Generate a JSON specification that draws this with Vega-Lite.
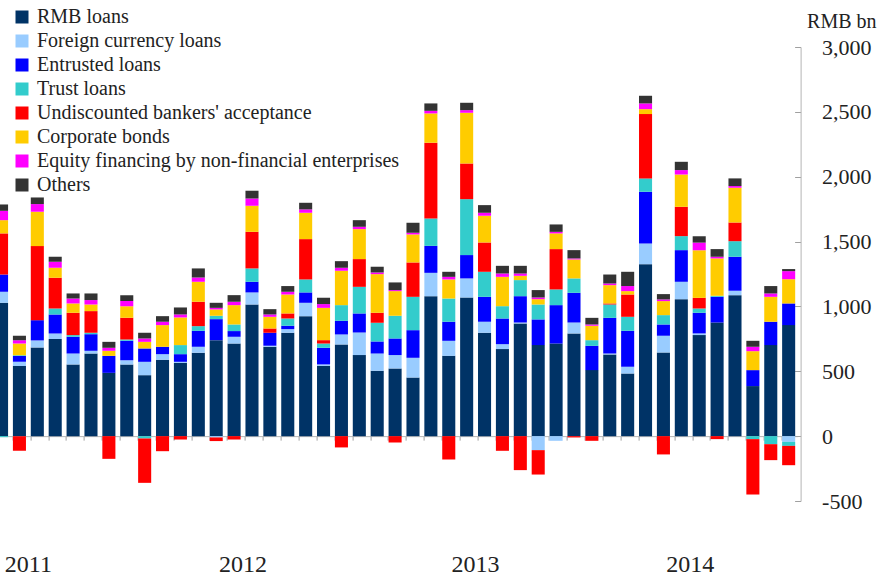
{
  "$schema": "https://vega.github.io/schema/vega-lite/v6.json",
  "width": 805,
  "height": 454,
  "autosize": {"type": "none"},
  "padding": {"left": -7.4, "top": 47, "right": 86.4, "bottom": 78},
  "background": "white",
  "config": {"view": {"stroke": null}, "font": "Liberation Serif"},
  "data": {"values": [
    {"m": "2011-01", "a": 1028, "b": 85, "c": 133, "d": -8, "e": 317, "f": 102, "g": 72, "h": 49},
    {"m": "2011-02", "a": 540, "b": 33, "c": 44, "d": 7, "e": -113, "f": 90, "g": 26, "h": 34},
    {"m": "2011-03", "a": 684, "b": 54, "c": 156, "d": 0, "e": 571, "f": 265, "g": 59, "h": 51},
    {"m": "2011-04", "a": 748, "b": 44, "c": 146, "d": 46, "e": 237, "f": 77, "g": 46, "h": 39},
    {"m": "2011-05", "a": 553, "b": 84, "c": 129, "d": 13, "e": 172, "f": 72, "g": 38, "h": 39},
    {"m": "2011-06", "a": 637, "b": 21, "c": 128, "d": 11, "e": 167, "f": 51, "g": 34, "h": 51},
    {"m": "2011-07", "a": 488, "b": 0, "c": 131, "d": 0, "e": -175, "f": 39, "g": 23, "h": 46},
    {"m": "2011-08", "a": 553, "b": 33, "c": 149, "d": 10, "e": 167, "f": 90, "g": 39, "h": 46},
    {"m": "2011-09", "a": 470, "b": 103, "c": 103, "d": -18, "e": -342, "f": 51, "g": 26, "h": 44},
    {"m": "2011-10", "a": 589, "b": 43, "c": 57, "d": 0, "e": -116, "f": 167, "g": 26, "h": 43},
    {"m": "2011-11", "a": 565, "b": 8, "c": 59, "d": 70, "e": -26, "f": 213, "g": 23, "h": 54},
    {"m": "2011-12", "a": 643, "b": 46, "c": 123, "d": 36, "e": 188, "f": 154, "g": 33, "h": 70},
    {"m": "2012-01", "a": 740, "b": -10, "c": 162, "d": 26, "e": -28, "f": 49, "g": 12, "h": 39},
    {"m": "2012-02", "a": 714, "b": 52, "c": 44, "d": 51, "e": -26, "f": 149, "g": 26, "h": 51},
    {"m": "2012-03", "a": 1015, "b": 93, "c": 82, "d": 103, "e": 282, "f": 201, "g": 56, "h": 60},
    {"m": "2012-04", "a": 689, "b": 8, "c": 100, "d": 0, "e": 33, "f": 90, "g": 18, "h": 41},
    {"m": "2012-05", "a": 797, "b": 28, "c": 26, "d": 56, "e": 39, "f": 146, "g": 21, "h": 44},
    {"m": "2012-06", "a": 925, "b": 103, "c": 80, "d": 100, "e": 311, "f": 203, "g": 26, "h": 51},
    {"m": "2012-07", "a": 542, "b": 11, "c": 128, "d": 33, "e": 26, "f": 249, "g": 29, "h": 49},
    {"m": "2012-08", "a": 707, "b": 77, "c": 105, "d": 121, "e": -87, "f": 265, "g": 23, "h": 51},
    {"m": "2012-09", "a": 625, "b": 174, "c": 147, "d": 205, "e": 214, "f": 231, "g": 18, "h": 51},
    {"m": "2012-10", "a": 504, "b": 133, "c": 93, "d": 144, "e": 77, "f": 298, "g": 13, "h": 44},
    {"m": "2012-11", "a": 522, "b": 103, "c": 128, "d": 175, "e": -49, "f": 190, "g": 8, "h": 59},
    {"m": "2012-12", "a": 452, "b": 152, "c": 213, "d": 257, "e": 265, "f": 216, "g": 13, "h": 77},
    {"m": "2013-01", "a": 1079, "b": 180, "c": 208, "d": 211, "e": 584, "f": 226, "g": 20, "h": 57},
    {"m": "2013-02", "a": 619, "b": 116, "c": 147, "d": 179, "e": -180, "f": 147, "g": 20, "h": 39},
    {"m": "2013-03", "a": 1069, "b": 147, "c": 180, "d": 431, "e": 275, "f": 391, "g": 20, "h": 57},
    {"m": "2013-04", "a": 797, "b": 85, "c": 192, "d": 193, "e": 226, "f": 206, "g": 23, "h": 59},
    {"m": "2013-05", "a": 671, "b": 38, "c": 198, "d": 95, "e": -113, "f": 226, "g": 26, "h": 59},
    {"m": "2013-06", "a": 869, "b": 7, "c": 203, "d": 124, "e": -262, "f": 33, "g": 18, "h": 59},
    {"m": "2013-07", "a": 702, "b": -108, "c": 198, "d": 115, "e": -188, "f": 41, "g": 13, "h": 57},
    {"m": "2013-08", "a": 714, "b": -36, "c": 296, "d": 121, "e": 311, "f": 121, "g": 12, "h": 57},
    {"m": "2013-09", "a": 792, "b": 84, "c": 229, "d": 111, "e": -10, "f": 146, "g": 8, "h": 64},
    {"m": "2013-10", "a": 509, "b": 0, "c": 187, "d": 44, "e": -36, "f": 111, "g": 10, "h": 51},
    {"m": "2013-11", "a": 630, "b": 7, "c": 275, "d": 103, "e": 8, "f": 141, "g": 13, "h": 69},
    {"m": "2013-12", "a": 483, "b": 52, "c": 277, "d": 108, "e": 172, "f": 26, "g": 39, "h": 110},
    {"m": "2014-01", "a": 1326, "b": 159, "c": 399, "d": 103, "e": 496, "f": 38, "g": 44, "h": 59},
    {"m": "2014-02", "a": 645, "b": 129, "c": 87, "d": 72, "e": -141, "f": 108, "g": 13, "h": 41},
    {"m": "2014-03", "a": 1056, "b": 134, "c": 244, "d": 108, "e": 226, "f": 249, "g": 34, "h": 64},
    {"m": "2014-04", "a": 779, "b": 13, "c": 159, "d": 33, "e": 82, "f": 367, "g": 59, "h": 49},
    {"m": "2014-05", "a": 876, "b": 0, "c": 198, "d": 8, "e": -23, "f": 288, "g": 13, "h": 59},
    {"m": "2014-06", "a": 1087, "b": 34, "c": 262, "d": 120, "e": 144, "f": 268, "g": 13, "h": 59},
    {"m": "2014-07", "a": 386, "b": 0, "c": 123, "d": -23, "e": -427, "f": 146, "g": 34, "h": 46},
    {"m": "2014-08", "a": 702, "b": 0, "c": 180, "d": -62, "e": -123, "f": 192, "g": 26, "h": 57},
    {"m": "2014-09", "a": 856, "b": -44, "c": 167, "d": -31, "e": -149, "f": 187, "g": 62, "h": 16}
  ]},
  "transform": [{"fold": ["a", "b", "c", "d", "e", "f", "g", "h"], "as": ["s", "v"]}],
  "mark": {"type": "bar"},
  "encoding": {
    "x": {
      "field": "m",
      "type": "ordinal",
      "scale": {"paddingInner": 0.27, "paddingOuter": 0.135},
      "axis": {
        "title": null,
        "orient": "bottom",
        "offset": -64.86,
        "bandPosition": 0,
        "domainColor": "#b4b4b4",
        "tickColor": "#a0a0a0",
        "tickSize": 4,
        "labelOffset": 8.94,
        "labelAngle": 0,
        "labelPadding": 131,
        "labelBaseline": "alphabetic",
        "labelFontSize": 24,
        "labelFont": "Liberation Serif",
        "labelColor": "#222222",
        "labelOverlap": false,
        "labelExpr": "datum.value == '2011-02' ? '2011' : datum.value == '2012-02' ? '2012' : datum.value == '2013-03' ? '2013' : datum.value == '2014-03' ? '2014' : ''"
      }
    },
    "y": {
      "field": "v",
      "type": "quantitative",
      "stack": "zero",
      "scale": {"domain": [-500, 3000], "nice": false, "zero": false},
      "axis": {
        "orient": "right",
        "offset": 3,
        "values": [-500, 0, 500, 1000, 1500, 2000, 2500, 3000],
        "grid": false,
        "domainColor": "#b4b4b4",
        "tickColor": "#a0a0a0",
        "tickSize": -6,
        "labelPadding": 27,
        "labelAlign": "left",
        "labelFontSize": 22,
        "labelFont": "Liberation Serif",
        "labelColor": "#222222",
        "labelExpr": "replace(format(datum.value, ','), '−', '-')",
        "title": "RMB bn",
        "titleAngle": 0,
        "titleAlign": "left",
        "titleBaseline": "alphabetic",
        "titleX": 6,
        "titleY": -20,
        "titleFontSize": 20,
        "titleFontWeight": "normal",
        "titleFont": "Liberation Serif",
        "titleColor": "#222222"
      }
    },
    "color": {
      "field": "s",
      "type": "nominal",
      "scale": {
        "domain": ["a", "b", "c", "d", "e", "f", "g", "h"],
        "range": ["#003366", "#99ccff", "#0000ff", "#33cccc", "#ff0000", "#ffcc00", "#ff00ff", "#333333"]
      },
      "legend": {
        "orient": "none",
        "legendX": 19.4,
        "legendY": -40,
        "title": null,
        "symbolType": "square",
        "symbolSize": 169,
        "symbolStrokeWidth": 0,
        "symbolOpacity": 1,
        "labelFontSize": 20,
        "labelFont": "Liberation Serif",
        "labelColor": "#222222",
        "labelLimit": 0,
        "labelOffset": 5,
        "rowPadding": 4,
        "labelExpr": "datum.label == 'a' ? 'RMB loans' : datum.label == 'b' ? 'Foreign currency loans' : datum.label == 'c' ? 'Entrusted loans' : datum.label == 'd' ? 'Trust loans' : datum.label == 'e' ? 'Undiscounted bankers\\' acceptance' : datum.label == 'f' ? 'Corporate bonds' : datum.label == 'g' ? 'Equity financing by non-financial enterprises' : 'Others'"
      }
    },
    "order": {"field": "s", "sort": "ascending"}
  }
}
